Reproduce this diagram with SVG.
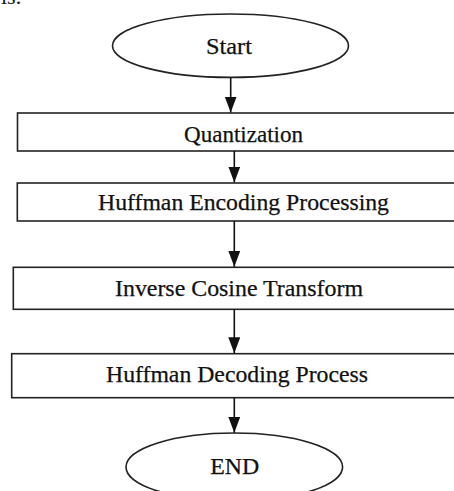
<svg xmlns="http://www.w3.org/2000/svg" width="454" height="491" viewBox="0 0 454 491">
<defs>
<style>
.shape{fill:#fff;stroke:#222;stroke-width:1.6}
.lbl{font-family:"Liberation Serif","Times New Roman",serif;font-size:24px;fill:#111;text-anchor:middle;stroke:#111;stroke-width:0.25}
.conn{stroke:#111;stroke-width:1.6;fill:none;marker-end:url(#ah)}
</style>
<marker id="ah" viewBox="0 0 16 12" refX="16" refY="6" markerWidth="16" markerHeight="12" markerUnits="userSpaceOnUse" orient="auto">
<path d="M0,0 L16,6 L0,12 Z" fill="#111"/>
</marker>
</defs>
<rect width="454" height="491" fill="#fff"/>
<text x="1" y="4" style="font-family:'Liberation Serif',serif;font-size:22px;fill:#111">is.</text>
<g id="start">
<ellipse class="shape" cx="230.5" cy="45.7" rx="118" ry="31.7"/>
<text class="lbl" x="229" y="54" textLength="46" lengthAdjust="spacingAndGlyphs">Start</text>
</g>
<g id="quantization">
<rect class="shape" x="17.5" y="113" width="450" height="38"/>
<text class="lbl" x="243.5" y="141.5" textLength="119" lengthAdjust="spacingAndGlyphs">Quantization</text>
</g>
<g id="huffman-encoding">
<rect class="shape" x="17.3" y="183" width="450" height="38"/>
<text class="lbl" x="243.5" y="209.5" textLength="291" lengthAdjust="spacingAndGlyphs">Huffman Encoding Processing</text>
</g>
<g id="inverse-cosine">
<rect class="shape" x="13.3" y="267.3" width="450" height="42"/>
<text class="lbl" x="239" y="296" textLength="248" lengthAdjust="spacingAndGlyphs">Inverse Cosine Transform</text>
</g>
<g id="huffman-decoding">
<rect class="shape" x="11.7" y="353.7" width="450" height="44"/>
<text class="lbl" x="237" y="381.7" textLength="262" lengthAdjust="spacingAndGlyphs">Huffman Decoding Process</text>
</g>
<g id="end">
<ellipse class="shape" cx="234.3" cy="467" rx="108.3" ry="34"/>
<text class="lbl" x="234.7" y="474" textLength="49" lengthAdjust="spacingAndGlyphs">END</text>
</g>
<g id="connectors">
<line class="conn" x1="230.7" y1="77.4" x2="230.7" y2="112.5"/>
<line class="conn" x1="234.3" y1="151" x2="234.3" y2="182.5"/>
<line class="conn" x1="234.3" y1="221" x2="234.3" y2="266.8"/>
<line class="conn" x1="234.3" y1="309.3" x2="234.3" y2="353.2"/>
<line class="conn" x1="234.3" y1="397.7" x2="234.3" y2="432.8"/>
</g>
</svg>
